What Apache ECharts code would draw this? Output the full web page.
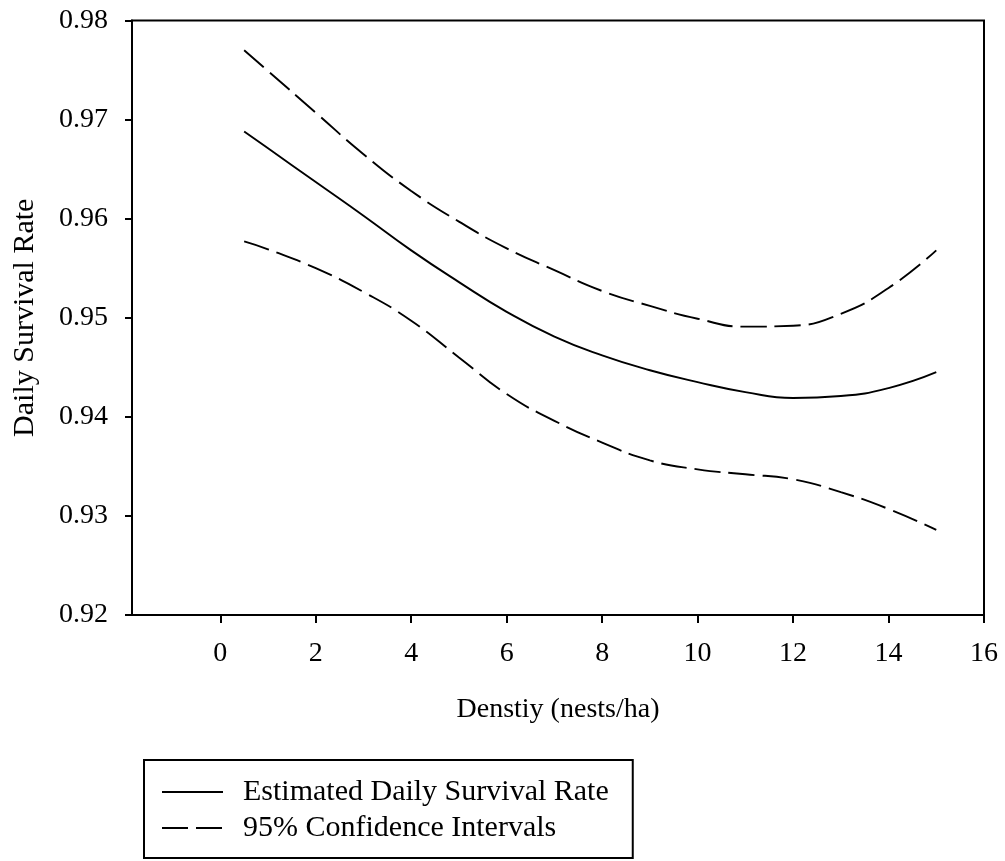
<!DOCTYPE html>
<html>
<head>
<meta charset="utf-8">
<script src="https://cdn.jsdelivr.net/npm/echarts@6/dist/echarts.min.js"></script>
<style>
  html, body { margin: 0; padding: 0; background: #fff; }
  #chart { width: 1005px; height: 861px; }
</style>
</head>
<body>
<div id="chart"></div>
<script>
  // density (nests/ha)
  const density = [0.5, 1, 2, 3, 4, 5, 6, 7, 8, 9, 10, 11, 12, 13, 14, 15]
  // estimated daily survival rate
  const estimate = [0.9688, 0.9671, 0.9637, 0.9603, 0.9568, 0.9536, 0.9506, 0.9481,
    0.9462, 0.9447, 0.9435, 0.9425, 0.9419, 0.9421, 0.9429, 0.9445]
  // 95% confidence limits
  const upper = [0.9770, 0.9749, 0.9707, 0.9665, 0.9628, 0.9597, 0.9570, 0.9548,
    0.9527, 0.9512, 0.9499, 0.9491, 0.9492, 0.9504, 0.9530, 0.9568]
  const lower = [0.9577, 0.9569, 0.9550, 0.9526, 0.9497, 0.9460, 0.9423, 0.9396,
    0.9374, 0.9356, 0.9347, 0.9342, 0.9337, 0.9324, 0.9307, 0.9286]
  const xTicks = [0, 2, 4, 6, 8, 10, 12, 14, 16]

  const font = 'Liberation Serif'
  const pair = (ys) => density.map((x, i) => [x, ys[i]])

  const lineSeries = (name, ys, dashed) => ({
    name,
    type: 'line',
    data: pair(ys),
    smooth: true,
    symbol: 'none',
    itemStyle: { color: '#000' },
    lineStyle: {
      color: '#000',
      width: 1.9,
      type: dashed ? [26, 8] : 'solid'
    }
  })

  const chart = echarts.init(document.getElementById('chart'))
  chart.setOption({
    animation: false,
    backgroundColor: '#fff',
    textStyle: { fontFamily: font, color: '#000' },
    grid: {
      left: 132,
      right: 21,
      top: 20.5,
      bottom: 246,
      outerBoundsMode: 'none',
      containLabel: false,
      show: true,
      borderColor: '#000',
      borderWidth: 2
    },
    xAxis: {
      type: 'value',
      min: -1.85,
      max: 16,
      name: 'Denstiy (nests/ha)',
      nameLocation: 'middle',
      nameGap: 81,
      nameTextStyle: { fontFamily: font, fontSize: 28, color: '#000' },
      axisLine: { onZero: false, lineStyle: { color: '#000', width: 2 } },
      axisTick: { customValues: xTicks, length: 8, lineStyle: { color: '#000', width: 2 } },
      axisLabel: {
        customValues: xTicks,
        margin: 25,
        fontFamily: font,
        fontSize: 28,
        color: '#000'
      },
      splitLine: { show: false }
    },
    yAxis: {
      type: 'value',
      min: 0.92,
      max: 0.98,
      interval: 0.01,
      name: 'Daily Survival Rate',
      nameLocation: 'middle',
      nameGap: 92,
      nameRotate: 90,
      nameTextStyle: { fontFamily: font, fontSize: 30, color: '#000' },
      axisLine: { onZero: false, lineStyle: { color: '#000', width: 2 } },
      axisTick: { length: 7, lineStyle: { color: '#000', width: 2 } },
      axisLabel: {
        margin: 24,
        fontFamily: font,
        fontSize: 28,
        color: '#000',
        formatter: (v) => v.toFixed(2)
      },
      splitLine: { show: false }
    },
    legend: {
      left: 144,
      top: 760,
      orient: 'vertical',
      data: ['Estimated Daily Survival Rate', '95% Confidence Intervals'],
      backgroundColor: '#fff',
      borderColor: '#000',
      borderWidth: 2,
      borderRadius: 0,
      padding: [17, 24, 15, 17],
      itemWidth: 61,
      itemHeight: 30,
      itemGap: 6,
      selectedMode: false,
      itemStyle: { color: 'transparent', borderColor: 'transparent', opacity: 0 },
      textStyle: { fontFamily: font, fontSize: 30, color: '#000', padding: [0, 0, 0, 15] }
    },
    series: [
      lineSeries('Estimated Daily Survival Rate', estimate, false),
      lineSeries('95% Confidence Intervals', upper, true),
      lineSeries('95% Confidence Intervals', lower, true)
    ]
  })
</script>
</body>
</html>
